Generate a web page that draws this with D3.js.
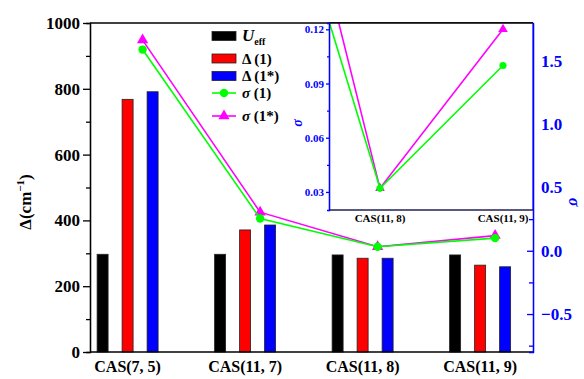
<!DOCTYPE html>
<html>
<head>
<meta charset="utf-8">
<script src="https://cdn.jsdelivr.net/npm/d3@7"></script>
<style>
  body { margin: 0; background: #fff; }
</style>
</head>
<body>
<svg id="chart" width="584" height="379"></svg>
<script>
// data
var categories = ["CAS(7, 5)", "CAS(11, 7)", "CAS(11, 8)", "CAS(11, 9)"];
var ueff = [297, 297, 295, 295];
var delta1 = [768, 371, 285, 264];
var delta1s = [791, 386, 285, 259];
var sigma1 = [1.59, 0.255, 0.032, 0.10];
var sigma1s = [1.665, 0.305, 0.032, 0.12];
var leftTicks = [0, 200, 400, 600, 800, 1000];
var rightTicks = [-0.5, 0.0, 0.5, 1.0, 1.5];
var insetTicks = [0.03, 0.06, 0.09, 0.12];

var svg = d3.select("#chart");
var FONT = "Liberation Serif";
// note: "top" is a reserved window property, so use other names
var pl = 90, pr = 533, pt = 23, pb = 352;

var x = d3.scaleLinear().domain([-0.32, 3.45]).range([pl, pr]);
var y = d3.scaleLinear().domain([0, 1000]).range([pb, pt]);
var y2 = d3.scaleLinear().domain([-0.8, 1.8]).range([pb, pt]);

var series = [
  {key: "ueff", values: ueff, color: "#000000"},
  {key: "d1", values: delta1, color: "#ff0000"},
  {key: "d1s", values: delta1s, color: "#0000ff"}
];
var inner = d3.scaleBand().domain(series.map(function(s) { return s.key; }))
  .range([-37.5, 37.5]).paddingInner(0.56).paddingOuter(0.28);

/* bars */
series.forEach(function(s) {
  svg.append("g").selectAll("rect")
    .data(s.values).enter().append("rect")
    .attr("x", function(d, i) { return x(i) + inner(s.key); })
    .attr("y", function(d) { return y(d); })
    .attr("width", inner.bandwidth())
    .attr("height", function(d) { return y(0) - y(d); })
    .attr("fill", s.color)
    .attr("stroke", "#222")
    .attr("stroke-width", 0.8);
});

/* frame */
svg.append("line").attr("x1", pl).attr("x2", pr).attr("y1", pt).attr("y2", pt)
  .attr("stroke", "#000").attr("stroke-width", 1.5);
svg.append("line").attr("x1", pl).attr("x2", pr).attr("y1", pb).attr("y2", pb)
  .attr("stroke", "#000").attr("stroke-width", 1.5);

/* left axis */
var gl = svg.append("g").attr("transform", "translate(" + pl + ",0)");
gl.call(d3.axisLeft(y).tickValues(leftTicks).tickSize(7).tickPadding(3).tickSizeOuter(0)
  .tickFormat(d3.format("d")));
gl.append("g").call(d3.axisLeft(y).tickValues([100, 300, 500, 700, 900]).tickSize(4).tickFormat(""));
gl.selectAll("path, line").attr("stroke", "#000").attr("stroke-width", 1.3);
gl.selectAll("text").attr("font-size", 17).attr("fill", "#000");

/* right axis */
var gr = svg.append("g").attr("transform", "translate(" + pr + ",0)");
gr.call(d3.axisRight(y2).tickValues(rightTicks).tickSize(-6).tickPadding(8).tickSizeOuter(0)
  .tickFormat(d3.format(".1f")));
gr.append("g").call(d3.axisRight(y2).tickValues([-0.75, -0.25, 0.25, 0.75, 1.25, 1.75]).tickSize(-4).tickFormat(""));
gr.selectAll("path, line").attr("stroke", "#0000ff").attr("stroke-width", 1.3);
gr.selectAll("text").attr("font-size", 17).attr("fill", "#0000ff");

/* category labels */
svg.append("g").selectAll("text")
  .data(categories).enter().append("text")
  .attr("x", function(d, i) { return x(i); })
  .attr("y", 372)
  .attr("text-anchor", "middle")
  .attr("font-size", 16)
  .text(function(d) { return d; });

/* axis titles */
var yt = svg.append("text")
  .attr("transform", "translate(31,202) rotate(-90)")
  .attr("text-anchor", "middle")
  .attr("font-size", 17);
yt.append("tspan").text("Δ(cm");
yt.append("tspan").attr("font-size", 11).attr("dy", -7).text("−1");
yt.append("tspan").attr("dy", 7).text(")");

svg.append("text")
  .attr("transform", "translate(569,202) rotate(90)")
  .attr("text-anchor", "middle")
  .attr("font-size", 16)
  .attr("font-style", "italic")
  .attr("fill", "#0000ff")
  .text("σ");

/* sigma lines in the main plot */
var lines = [
  {values: sigma1, color: "#00ff00", shape: d3.symbolCircle},
  {values: sigma1s, color: "#ff00ff", shape: d3.symbolTriangle}
];
var lineMain = d3.line()
  .x(function(d, i) { return x(i) + 15; })
  .y(function(d) { return y2(d); });

lines.slice().reverse().forEach(function(l) {
  svg.append("path").datum(l.values)
    .attr("d", lineMain)
    .attr("fill", "none")
    .attr("stroke", l.color)
    .attr("stroke-width", 1.6);
  svg.append("g").selectAll("path")
    .data(l.values).enter().append("path")
    .attr("transform", function(d, i) { return "translate(" + (x(i) + 15) + "," + y2(d) + ")"; })
    .attr("d", d3.symbol().type(l.shape).size(55))
    .attr("fill", l.color);
});

/* legend */
var lg = svg.append("g").attr("transform", "translate(212,0)");
var rowsY = [36, 58.5, 76, 93, 116];
series.forEach(function(s, i) {
  lg.append("rect").attr("x", 0).attr("y", rowsY[i] - 4.5).attr("width", 24).attr("height", 9)
    .attr("fill", s.color).attr("stroke", "#222").attr("stroke-width", 0.8);
});
lines.forEach(function(l, i) {
  var yy = rowsY[i + 3];
  lg.append("line").attr("x1", 0).attr("x2", 24).attr("y1", yy).attr("y2", yy)
    .attr("stroke", l.color).attr("stroke-width", 1.6);
  lg.append("path").attr("transform", "translate(12," + yy + ")")
    .attr("d", d3.symbol().type(l.shape).size(55)).attr("fill", l.color);
});
var t0 = lg.append("text").attr("x", 30).attr("y", rowsY[0] + 5).attr("font-size", 17);
t0.append("tspan").attr("font-style", "italic").text("U");
t0.append("tspan").attr("font-size", 10).attr("dy", 4).text("eff");
lg.append("text").attr("x", 30).attr("y", rowsY[1] + 5).attr("font-size", 15).text("Δ (1)");
lg.append("text").attr("x", 30).attr("y", rowsY[2] + 5).attr("font-size", 15).text("Δ (1*)");
[" (1)", " (1*)"].forEach(function(lab, i) {
  var t = lg.append("text").attr("x", 30).attr("y", rowsY[i + 3] + 5).attr("font-size", 15);
  t.append("tspan").attr("font-style", "italic").text("σ");
  t.append("tspan").text(lab);
});

/* inset */
var il = 329, ir = 533, it = 23, ib = 210;
var ix = d3.scaleLinear().domain([2, 3]).range([380, 503]);
var iy = d3.scaleLinear().domain([0.02, 0.1235]).range([ib, it]);

svg.append("rect").attr("x", il).attr("y", it).attr("width", ir - il).attr("height", ib - it)
  .attr("fill", "#fff");
svg.append("clipPath").attr("id", "inset-clip")
  .append("rect").attr("x", il).attr("y", it).attr("width", ir - il).attr("height", ib - it);

var lineInset = d3.line()
  .x(function(d, i) { return ix(i); })
  .y(function(d) { return iy(d); });
var ig = svg.append("g").attr("clip-path", "url(#inset-clip)");
lines.slice().reverse().forEach(function(l) {
  ig.append("path").datum(l.values)
    .attr("d", lineInset)
    .attr("fill", "none")
    .attr("stroke", l.color)
    .attr("stroke-width", 1.6);
  ig.append("g").selectAll("path")
    .data(l.values.slice(2)).enter().append("path")
    .attr("transform", function(d, i) { return "translate(" + ix(i + 2) + "," + iy(d) + ")"; })
    .attr("d", d3.symbol().type(l.shape).size(40))
    .attr("fill", l.color);
});

svg.append("line").attr("x1", il).attr("x2", ir).attr("y1", it).attr("y2", it)
  .attr("stroke", "#000").attr("stroke-width", 1.5);
svg.append("line").attr("x1", il).attr("x2", ir).attr("y1", ib).attr("y2", ib)
  .attr("stroke", "#222255").attr("stroke-width", 1.3);
svg.append("line").attr("x1", ir).attr("x2", ir).attr("y1", it).attr("y2", ib)
  .attr("stroke", "#0000ff").attr("stroke-width", 1.3);

var gi = svg.append("g").attr("transform", "translate(" + il + ",0)");
gi.call(d3.axisLeft(iy).tickValues(insetTicks).tickSize(3).tickPadding(2).tickSizeOuter(0)
  .tickFormat(d3.format(".2f")));
gi.append("g").call(d3.axisLeft(iy).tickValues([0.045, 0.075, 0.105]).tickSize(2).tickFormat(""));
gi.selectAll("path, line").attr("stroke", "#0000ff").attr("stroke-width", 1.3);
gi.selectAll("text").attr("font-size", 11).attr("fill", "#0000ff");

svg.append("g").selectAll("text")
  .data(categories.slice(2)).enter().append("text")
  .attr("x", function(d, i) { return ix(i + 2); })
  .attr("y", 222)
  .attr("text-anchor", "middle")
  .attr("font-size", 11)
  .text(function(d) { return d; });

svg.append("text")
  .attr("transform", "translate(302,123) rotate(-90)")
  .attr("text-anchor", "middle")
  .attr("font-size", 14)
  .attr("font-style", "italic")
  .attr("fill", "#0000ff")
  .text("σ");

// every label in bold serif (axis groups set their own sans-serif family)
svg.selectAll("g").attr("font-family", null);
svg.selectAll("text").attr("font-family", FONT).attr("font-weight", "bold");
</script>
</body>
</html>
